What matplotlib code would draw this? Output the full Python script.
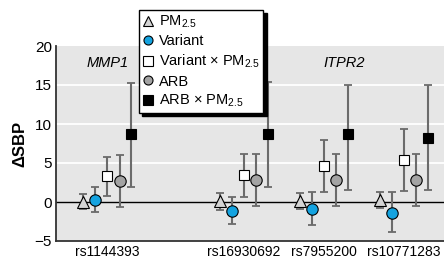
import matplotlib
matplotlib.use("Agg")
import matplotlib.pyplot as plt
from matplotlib import font_manager
from matplotlib.lines import Line2D

# ---------------------------------------------------------------------------
# Data
# ---------------------------------------------------------------------------
snps = ["rs1144393", "rs16930692", "rs7955200", "rs10771283"]
genes = ["MMP1", "ITPR2"]

pm25 = [0.05, 0.1, 0.13, 0.2]
pm25_lo = [-0.9, -1.0, -0.95, -0.75]
pm25_hi = [1.0, 1.1, 1.1, 1.3]

variant = [0.2, -1.15, -0.9, -1.4]
variant_lo = [-1.3, -2.8, -3.0, -3.9]
variant_hi = [1.9, 0.6, 1.25, 1.25]

variant_pm = [3.3, 3.4, 4.6, 5.4]
variant_pm_lo = [0.8, 0.7, 1.3, 1.45]
variant_pm_hi = [5.8, 6.1, 7.95, 9.35]

arb = [2.65, 2.8, 2.8, 2.8]
arb_lo = [-0.65, -0.5, -0.5, -0.5]
arb_hi = [6.0, 6.15, 6.1, 6.1]

arb_pm = [8.7, 8.7, 8.7, 8.2]
arb_pm_lo = [1.9, 1.9, 1.55, 1.55]
arb_pm_hi = [15.2, 15.4, 15.0, 15.0]

# ---------------------------------------------------------------------------
# Styling
# ---------------------------------------------------------------------------
installed = {f.name for f in font_manager.fontManager.ttflist}
family = "Liberation Sans Narrow" if "Liberation Sans Narrow" in installed else "Liberation Sans"
plt.rcParams["font.family"] = [family, "DejaVu Sans"]
plt.rcParams["mathtext.fontset"] = "custom"
plt.rcParams["mathtext.rm"] = family
plt.rcParams["mathtext.it"] = family + ":italic"

group_x = [0.0, 1.71, 2.71, 3.71]
offsets = [-0.30, -0.15, 0.0, 0.155, 0.30]

series = [
    ("PM$_{2.5}$", pm25, pm25_lo, pm25_hi, "^", "#d4d4d4"),
    ("Variant", variant, variant_lo, variant_hi, "o", "#14a3e0"),
    ("Variant × PM$_{2.5}$", variant_pm, variant_pm_lo, variant_pm_hi, "s", "white"),
    ("ARB", arb, arb_lo, arb_hi, "o", "#a3a3a3"),
    ("ARB × PM$_{2.5}$", arb_pm, arb_pm_lo, arb_pm_hi, "s", "black"),
]

fig = plt.figure(figsize=(4.44, 2.60), dpi=100)
ax = fig.add_axes([56 / 444, 1 - 241 / 260, 1 - 56 / 444, (241 - 46) / 260])
ax.set_facecolor("#e6e6e6")

for y in (5, 10, 15):
    ax.axhline(y, color="white", lw=1.3, zorder=1)
ax.axhline(0, color="black", lw=1.0, zorder=1)

handles = []
for i, (label, vals, lo, hi, mk, fc) in enumerate(series):
    xs = [g + offsets[i] for g in group_x]
    err = [[v - l for v, l in zip(vals, lo)], [h - v for v, h in zip(vals, hi)]]
    line, caps, bars = ax.errorbar(xs, vals, yerr=err, fmt="none",
                                   ecolor="#6b6b6b", elinewidth=1.5,
                                   capsize=3.2, capthick=1.3, zorder=2)
    for c in caps:
        c.set_color("black")
    ms = 8 if mk == "^" else 8.2 if mk == "o" else 7.5
    ax.plot(xs, vals, linestyle="none", marker=mk, markersize=ms,
            markerfacecolor=fc, markeredgecolor="black",
            markeredgewidth=0.8, zorder=3)
    handles.append(Line2D([], [], linestyle="none", marker=mk, markersize=6.5,
                          markerfacecolor=fc, markeredgecolor="black",
                          markeredgewidth=0.8, label=label))

ax.text(0.0, 17.8, genes[0], ha="center", va="center", fontsize=10.5, style="italic")
ax.text(2.96, 17.8, genes[1], ha="center", va="center", fontsize=10.5, style="italic")

ax.set_xlim(-0.64, 4.21)
ax.set_ylim(-5, 20)
ax.set_yticks([-5, 0, 5, 10, 15, 20])
ax.set_yticklabels(["\u22125", "0", "5", "10", "15", "20"])
ax.set_xticks(group_x)
ax.set_xticklabels(snps)
ax.tick_params(axis="y", length=0, labelsize=11, pad=3)
ax.tick_params(axis="x", length=0, labelsize=10, pad=3)
ax.set_ylabel("\u0394SBP", fontsize=12, fontweight="bold", labelpad=5)

for s in ("top", "right"):
    ax.spines[s].set_visible(False)
for s in ("left", "bottom"):
    ax.spines[s].set_color("#333333")
    ax.spines[s].set_linewidth(1.3)

fig.legend(handles=handles, loc="upper left", bbox_to_anchor=(139 / 444, 1 - 10 / 260),
           bbox_transform=fig.transFigure, fontsize=10.5, frameon=True,
           fancybox=False, edgecolor="black", framealpha=1,
           shadow={"color": "black", "alpha": 1, "ox": 2.5, "oy": -2.5},
           handlelength=0.8, handletextpad=0.3, borderpad=0.25,
           labelspacing=0.3, borderaxespad=0)

fig.savefig("out.png", dpi=100)
